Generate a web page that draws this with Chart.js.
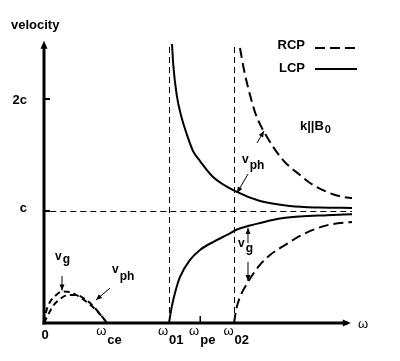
<!DOCTYPE html>
<html><head><meta charset="utf-8">
<script src="https://cdn.jsdelivr.net/npm/chart.js@4"></script>
<style>html,body{margin:0;padding:0;background:#fff;}#wrap{width:400px;height:361px;position:relative;}</style>
</head><body><div id="wrap"><canvas id="c" width="400" height="361"></canvas></div>
<script>
// frequency ω in units of ωce, velocity in units of c
const W_CE = 1.0, W_01 = 1.98, W_PE = 2.48, W_02 = 3.02;
const xTickValues = [0, W_CE, W_01, W_PE, W_02];
const xTickMain   = ['0', 'ω', 'ω', 'ω', 'ω'];
const xTickSub    = ['', 'ce', '01', 'pe', '02'];
const yTickValues = [1, 2];
const yTickLabels = ['c', '2c'];
const seriesNames = ['RCP', 'LCP'];

// LCP, upper branch (phase velocity)
const lcpUpperW = [2.032, 2.052, 2.106, 2.186, 2.265, 2.365, 2.476, 2.683, 3.063, 3.429, 3.905, 4.381, 4.889];
const lcpUpperV = [2.491, 2.304, 2.036, 1.830, 1.688, 1.536, 1.446, 1.304, 1.170, 1.089, 1.045, 1.031, 1.027];
// LCP, lower branch (group velocity)
const lcpLowerW = [1.984, 2.000, 2.027, 2.079, 2.159, 2.317, 2.476, 2.683, 2.905, 3.063, 3.270, 3.429, 3.746, 4.063, 4.492, 4.889];
const lcpLowerV = [0.000, 0.054, 0.143, 0.268, 0.411, 0.563, 0.652, 0.723, 0.786, 0.835, 0.871, 0.893, 0.933, 0.951, 0.962, 0.971];
// RCP, upper branch (phase velocity)
const rcpUpperW = [3.111, 3.175, 3.270, 3.365, 3.540, 3.794, 4.063, 4.222, 4.492, 4.746, 4.889];
const rcpUpperV = [2.455, 2.259, 2.036, 1.857, 1.661, 1.455, 1.321, 1.250, 1.170, 1.125, 1.116];
// RCP, lower branch (group velocity)
const rcpLowerW = [3.016, 3.056, 3.111, 3.238, 3.413, 3.587, 3.825, 4.063, 4.302, 4.540, 4.889];
const rcpLowerV = [0.000, 0.134, 0.232, 0.366, 0.509, 0.607, 0.696, 0.777, 0.839, 0.879, 0.902];
// RCP whistler branch below ωce: group and phase velocity
const whistGroupW = [0, 0.032, 0.095, 0.175, 0.286, 0.413, 0.540, 0.698, 0.857, 1.0];
const whistGroupV = [0, 0.098, 0.188, 0.241, 0.281, 0.277, 0.241, 0.179, 0.098, 0];
const whistPhaseW = [0, 0.063, 0.143, 0.254, 0.381, 0.508, 0.651, 0.778, 0.889, 1.0];
const whistPhaseV = [0, 0.071, 0.152, 0.214, 0.250, 0.250, 0.214, 0.152, 0.080, 0];

const pts = (xs, ys) => xs.map((x, i) => ({x, y: ys[i]}));
const FONT = '"Liberation Sans", Arial, sans-serif';

function ds(label, xs, ys, dash, lw) {
  return {label, data: pts(xs, ys), borderColor: '#000', borderWidth: lw, borderDash: dash,
    pointRadius: 0, fill: false, cubicInterpolationMode: 'monotone', showLine: true, borderCapStyle: 'butt'};
}

const deco = {
  id: 'deco',
  beforeDatasetsDraw(chart) {
    const c = chart.ctx, X = chart.scales.x, Y = chart.scales.y;
    const px = v => X.getPixelForValue(v), py = v => Y.getPixelForValue(v);
    c.save();
    c.strokeStyle = '#000'; c.lineWidth = 1; c.setLineDash([6, 4]);
    // cutoff guides
    [W_01, W_02].forEach(w => {
      c.beginPath(); c.moveTo(Math.round(px(w)) + 0.5, py(0)); c.lineTo(Math.round(px(w)) + 0.5, py(2.49)); c.stroke();
    });
    // c guide
    c.beginPath(); c.moveTo(px(0.1), Math.round(py(1)) + 0.5); c.lineTo(px(4.89), Math.round(py(1)) + 0.5); c.stroke();
    c.restore();
  },
  afterDatasetsDraw(chart) {
    const c = chart.ctx, X = chart.scales.x, Y = chart.scales.y;
    const px = v => X.getPixelForValue(v), py = v => Y.getPixelForValue(v);
    c.save();
    c.fillStyle = '#000'; c.strokeStyle = '#000'; c.setLineDash([]);
    const x0 = px(0), y0 = py(0);
    // axes
    c.lineWidth = 3;
    c.beginPath(); c.moveTo(x0, y0 + 1.5); c.lineTo(x0, py(2.47)); c.stroke();
    c.beginPath(); c.moveTo(x0 - 1.5, y0); c.lineTo(px(4.82), y0); c.stroke();
    // arrow heads
    c.beginPath(); c.moveTo(x0, py(2.52)); c.lineTo(x0 - 3.5, py(2.52) + 8); c.lineTo(x0 + 3.5, py(2.52) + 8); c.closePath(); c.fill();
    c.beginPath(); c.moveTo(px(4.87), y0); c.lineTo(px(4.87) - 8, y0 - 3.5); c.lineTo(px(4.87) - 8, y0 + 3.5); c.closePath(); c.fill();
    // y ticks
    c.lineWidth = 2;
    yTickValues.forEach(v => { c.beginPath(); c.moveTo(x0, py(v)); c.lineTo(x0 + 6, py(v)); c.stroke(); });
    // ωpe tick
    c.lineWidth = 1.5;
    c.beginPath(); c.moveTo(px(W_PE), y0); c.lineTo(px(W_PE), y0 - 7); c.stroke();

    // text helpers
    function sub(main, s, x, y, off, align, mainFont, subFont) {
      c.font = mainFont; const w1 = c.measureText(main).width;
      c.font = subFont; const w2 = c.measureText(s).width;
      let left = x;
      if (align === 'center') left = x - (w1 + w2 + 1) / 2;
      c.textAlign = 'left'; c.textBaseline = 'alphabetic';
      c.font = mainFont; c.fillText(main, left, y);
      c.font = subFont; c.fillText(s, left + w1 + 1, y + off);
    }
    const B12 = 'bold 12px ' + FONT, B13 = 'bold 13px ' + FONT, W13 = '13px ' + FONT;

    // y tick labels
    c.font = B13; c.textAlign = 'right'; c.textBaseline = 'alphabetic';
    yTickValues.forEach((v, i) => c.fillText(yTickLabels[i], 27, py(v) + 1 + (v === 1 ? 0 : 4)));
    // x tick labels
    xTickValues.forEach((v, i) => {
      if (!xTickSub[i]) { c.font = B13; c.textAlign = 'center'; c.fillText(xTickMain[i], px(v) + 1, y0 + 16); }
      else sub(xTickMain[i], xTickSub[i], px(v) + 2, y0 + 12, 9, 'center', W13, B13);
    });
    // axis titles
    c.font = B13; c.textAlign = 'left'; c.fillText('velocity', 11, 29);
    c.font = W13; c.fillText('ω', 358, y0 + 5);

    // legend
    const lx1 = 315, lx2 = 357;
    c.font = B13; c.textAlign = 'right';
    c.fillText(seriesNames[0], 305, 49);
    c.fillText(seriesNames[1], 305, 72);
    c.lineWidth = 2;
    c.setLineDash([10, 5]); c.beginPath(); c.moveTo(lx1, 48); c.lineTo(lx2, 48); c.stroke();
    c.setLineDash([]); c.beginPath(); c.moveTo(lx1, 69); c.lineTo(lx2, 69); c.stroke();

    // k||B0
    sub('k||B', '0', px(4.063), py(1.723), 3, 'left', B13, 'bold 11px ' + FONT);

    // annotations
    function arrow(ax, ay, bx, by) {
      const x1 = px(ax), y1 = py(ay), x2 = px(bx), y2 = py(by);
      c.lineWidth = 1; c.beginPath(); c.moveTo(x1, y1); c.lineTo(x2, y2); c.stroke();
      const a = Math.atan2(y2 - y1, x2 - x1), L = 6, H = 2.5;
      c.beginPath(); c.moveTo(x2, y2);
      c.lineTo(x2 - L * Math.cos(a) + H * Math.sin(a), y2 - L * Math.sin(a) - H * Math.cos(a));
      c.lineTo(x2 - L * Math.cos(a) - H * Math.sin(a), y2 - L * Math.sin(a) + H * Math.cos(a));
      c.closePath(); c.fill();
    }
    sub('v', 'g', px(0.175), py(0.563), 3, 'left', B12, B12);
    arrow(0.286, 0.42, 0.286, 0.29);
    sub('v', 'ph', px(1.079), py(0.446), 7, 'left', B12, B12);
    arrow(1.048, 0.3125, 0.825, 0.205);
    sub('v', 'ph', px(3.143), py(1.429), 6, 'left', B12, B12);
    arrow(3.381, 1.607, 3.492, 1.714);
    arrow(3.238, 1.33, 3.063, 1.161);
    sub('v', 'g', px(3.079), py(0.679), 5, 'left', B12, B12);
    arrow(3.238, 0.714, 3.238, 0.848);
    arrow(3.238, 0.545, 3.238, 0.375);
    c.restore();
  }
};

new Chart(document.getElementById('c'), {
  type: 'scatter',
  data: { datasets: [
    ds('LCP', lcpUpperW, lcpUpperV, [], 2),
    ds('LCP lower', lcpLowerW, lcpLowerV, [], 2),
    ds('RCP', rcpUpperW, rcpUpperV, [10, 5], 2),
    ds('RCP lower', rcpLowerW, rcpLowerV, [10, 5], 2),
    ds('v_g whistler', whistGroupW, whistGroupV, [6, 4], 2),
    ds('v_ph whistler', whistPhaseW, whistPhaseV, [6, 4], 2)
  ]},
  options: {
    responsive: false, animation: false, devicePixelRatio: 1,
    layout: { padding: { left: 44, right: 41, top: 43, bottom: 38 } },
    plugins: { legend: { display: false }, tooltip: { enabled: false } },
    scales: {
      x: { type: 'linear', min: 0, max: 5, display: false },
      y: { type: 'linear', min: 0, max: 2.5, display: false }
    }
  },
  plugins: [deco]
});
</script></body></html>
